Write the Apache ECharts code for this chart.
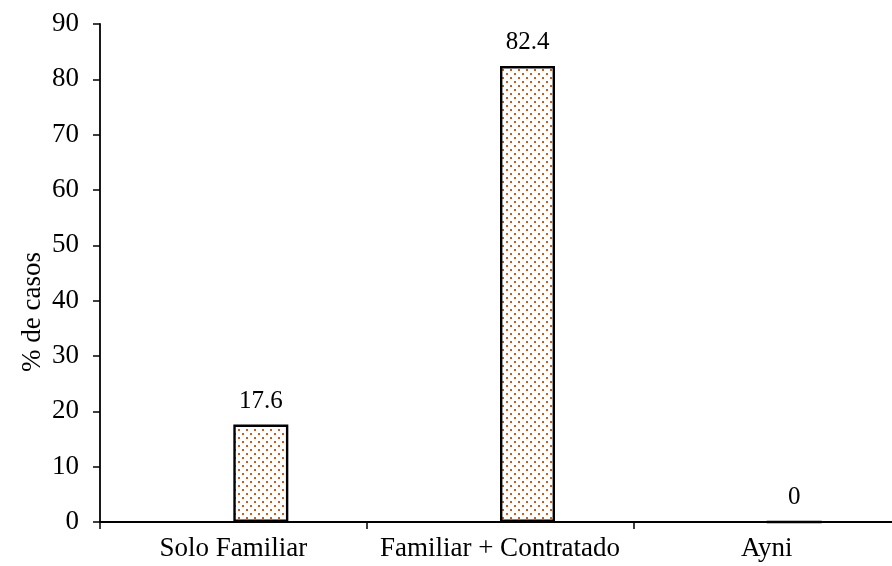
<!DOCTYPE html>
<html>
<head>
<meta charset="utf-8">
<script src="https://cdn.jsdelivr.net/npm/echarts@6/dist/echarts.min.js"></script>
<style>
  html, body { margin: 0; padding: 0; background: #fff; overflow: hidden; }
  #chart { width: 900px; height: 566px; }
</style>
</head>
<body>
<div id="chart"></div>
<script>
// Workforce type per case (% of cases)
const categories = ['Solo Familiar', 'Familiar + Contratado', 'Ayni'];
const percentCases = [17.6, 82.4, 0];
const emptySlot = ['-', '-', '-'];
const yTicks = { min: 0, max: 90, interval: 10 };

const FONT = '"Liberation Serif", "Times New Roman", serif';

// Orange dotted fill, staggered rows
function dotPattern() {
  const c = document.createElement('canvas');
  c.width = 8; c.height = 8;
  const ctx = c.getContext('2d');
  ctx.fillStyle = '#fff';
  ctx.fillRect(0, 0, 8, 8);
  ctx.fillStyle = '#c95f17';
  ctx.fillRect(2, 1, 2, 2);
  ctx.fillRect(6, 5, 2, 2);
  return c;
}

const chart = echarts.init(document.getElementById('chart'), null, { renderer: 'canvas' });

chart.setOption({
  animation: false,
  backgroundColor: '#fff',
  grid: { left: 100, right: 0, top: 24, bottom: 44, containLabel: false },
  xAxis: {
    type: 'category',
    data: categories,
    axisLine: { lineStyle: { color: '#000', width: 1.8 } },
    axisTick: { show: true, interval: 0, length: 7, lineStyle: { color: '#000', width: 1.5 } },
    axisLabel: { interval: 0, color: '#000', fontFamily: FONT, fontSize: 27, margin: 13 }
  },
  yAxis: {
    type: 'value',
    min: yTicks.min, max: yTicks.max, interval: yTicks.interval,
    axisLine: { show: true, lineStyle: { color: '#000', width: 1.8 } },
    axisTick: { show: true, length: 7, lineStyle: { color: '#000', width: 1.5 } },
    splitLine: { show: false },
    axisLabel: { color: '#000', fontFamily: FONT, fontSize: 27, margin: 21 }
  },
  graphic: [{
    type: 'text',
    left: 19,
    top: 252,
    rotation: Math.PI / 2,
    style: { text: '% de casos', fill: '#000', font: '27px ' + FONT }
  }],
  series: [
    {
      name: 'vacío',
      type: 'bar',
      data: emptySlot,
      barWidth: 55,
      barGap: '0%',
      silent: true
    },
    {
      name: '% de casos',
      type: 'bar',
      data: percentCases,
      barWidth: 55,
      barGap: '0%',
      itemStyle: {
        color: { image: dotPattern(), repeat: 'repeat' },
        borderColor: '#000',
        borderWidth: 2.4
      },
      label: {
        show: true,
        position: 'top',
        distance: 11,
        color: '#000',
        fontFamily: FONT,
        fontSize: 25
      }
    }
  ]
});
</script>
</body>
</html>
